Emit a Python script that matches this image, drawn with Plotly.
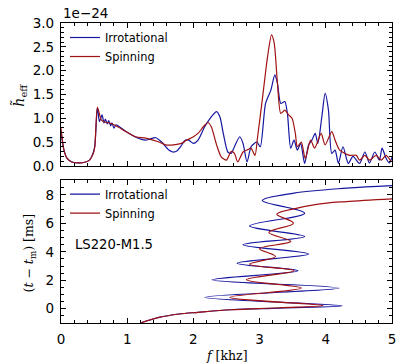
import plotly.graph_objects as go

# ---------------- data ----------------
# Top panel: effective strain spectrum (units of 1e-24) vs frequency [kHz]
f_irr = [0.00, 0.045, 0.09, 0.164, 0.28, 0.37, 0.43, 0.48, 0.51, 0.55, 0.58, 0.62, 0.65, 0.67,
         0.70, 0.72, 0.75, 0.77, 0.80, 0.83, 0.98, 1.13, 1.28, 1.34, 1.43, 1.52, 1.63, 1.69,
         1.75, 1.81, 1.88, 1.93, 2.00, 2.07, 2.17, 2.27, 2.35, 2.40, 2.45, 2.52, 2.57, 2.62,
         2.70, 2.75, 2.81, 2.87, 2.92, 2.96, 3.01, 3.09, 3.17, 3.23, 3.27, 3.32, 3.38, 3.42,
         3.47, 3.52, 3.57, 3.62, 3.68, 3.74, 3.79, 3.84, 3.88, 3.94, 3.99, 4.04, 4.09, 4.14,
         4.19, 4.26, 4.34, 4.41, 4.51, 4.59, 4.66, 4.74, 4.81, 4.85, 4.91, 4.96, 5.00]
h_irr = [0.71, 0.33, 0.16, 0.08, 0.06, 0.08, 0.12, 0.25, 0.41, 1.23, 0.93, 1.07, 0.90, 0.98,
         0.88, 0.95, 0.84, 0.90, 0.79, 0.86, 0.72, 0.60, 0.54, 0.56, 0.59, 0.50, 0.33, 0.29,
         0.31, 0.41, 0.54, 0.54, 0.47, 0.54, 0.82, 1.03, 1.14, 1.03, 0.69, 0.29, 0.26, 0.40,
         0.61, 0.47, 0.08, 0.40, 0.47, 0.50, 0.40, 1.31, 1.59, 1.91, 1.73, 1.31, 1.35, 1.10,
         0.37, 0.54, 0.33, 0.47, 0.05, 0.44, 0.54, 0.68, 0.47, 1.03, 1.52, 1.17, 0.26, 0.33,
         0.05, 0.40, 0.05, 0.20, 0.05, 0.29, 0.06, 0.29, 0.12, 0.37, 0.16, 0.06, 0.18]

f_spin = [0.00, 0.045, 0.09, 0.164, 0.28, 0.37, 0.43, 0.48, 0.51, 0.55, 0.61, 0.66, 0.73, 0.83,
          0.98, 1.13, 1.28, 1.48, 1.58, 1.70, 1.82, 1.90, 2.00, 2.07, 2.15, 2.22, 2.27, 2.35,
          2.42, 2.50, 2.57, 2.62, 2.67, 2.75, 2.82, 2.87, 2.93, 2.97, 3.04, 3.12, 3.18, 3.22,
          3.27, 3.32, 3.38, 3.44, 3.49, 3.54, 3.57, 3.63, 3.69, 3.77, 3.83, 3.87, 3.93, 3.99,
          4.09, 4.14, 4.21, 4.36, 4.46, 4.51, 4.59, 4.66, 4.76, 4.84, 4.91, 4.99]
h_spin = [0.79, 0.33, 0.16, 0.08, 0.06, 0.08, 0.12, 0.23, 0.39, 1.23, 0.96, 0.92, 0.90, 0.84,
          0.72, 0.61, 0.58, 0.50, 0.44, 0.44, 0.47, 0.54, 0.61, 0.68, 0.82, 0.91, 0.82, 0.44,
          0.19, 0.12, 0.30, 0.26, 0.08, 0.29, 0.34, 0.37, 0.22, 0.61, 1.38, 2.29, 2.75, 2.58,
          1.73, 1.10, 1.17, 1.07, 1.00, 0.68, 0.40, 0.50, 0.15, 0.54, 0.37, 0.48, 0.68, 0.44,
          0.72, 0.54, 0.33, 0.22, 0.22, 0.12, 0.22, 0.12, 0.22, 0.12, 0.22, 0.08]

# Bottom panel: instantaneous frequency [kHz] vs time after merger [ms]
fi_irr = [1.20, 1.48, 1.78, 2.07, 2.57, 3.31, 4.25, 2.17, 4.20, 2.28, 3.58, 2.66, 3.74,
          2.75, 3.68, 2.85, 3.68, 3.04, 3.52, 4.31, 5.00]
t_irr = [-1.00, -0.61, -0.37, -0.25, -0.07, 0.05, 0.21, 0.80, 1.45, 2.03, 2.67, 3.20, 3.84,
         4.49, 5.07, 5.82, 6.71, 7.60, 8.12, 8.47, 8.65]

fi_spin = [1.20, 1.48, 1.78, 2.07, 2.57, 3.31, 3.96, 2.55, 3.63, 2.80, 3.52, 2.85, 3.24,
           3.00, 3.47, 3.14, 3.51, 3.26, 3.57, 4.01, 4.31, 5.00]
t_spin = [-1.00, -0.61, -0.37, -0.25, -0.07, 0.07, 0.23, 0.80, 1.45, 2.03, 2.67, 3.13, 3.67,
          4.22, 4.73, 5.36, 6.01, 6.64, 7.07, 7.42, 7.53, 7.72]

names = ["Irrotational", "Spinning"]
model_label = "LS220-M1.5"
x_ticks = [0, 1, 2, 3, 4, 5]

# ---------------- styling ----------------
BLUE = "#1616a0"
RED = "#a01212"
FONT = "DejaVu Sans"
SERIF = "DejaVu Serif"

fig = go.Figure()
fig.add_trace(go.Scatter(x=f_irr, y=h_irr, mode="lines", name=names[0],
                         line=dict(color=BLUE, width=1.2, shape="spline", smoothing=0.7),
                         xaxis="x", yaxis="y", legend="legend"))
fig.add_trace(go.Scatter(x=f_spin, y=h_spin, mode="lines", name=names[1],
                         line=dict(color=RED, width=1.2, shape="spline", smoothing=0.7),
                         xaxis="x", yaxis="y", legend="legend"))
fig.add_trace(go.Scatter(x=fi_irr, y=t_irr, mode="lines", name=names[0],
                         line=dict(color=BLUE, width=1.2, shape="spline", smoothing=1.0),
                         xaxis="x2", yaxis="y2", legend="legend2"))
fig.add_trace(go.Scatter(x=fi_spin, y=t_spin, mode="lines", name=names[1],
                         line=dict(color=RED, width=1.2, shape="spline", smoothing=1.0),
                         xaxis="x2", yaxis="y2", legend="legend2"))

axis_common = dict(showline=True, linecolor="black", linewidth=1.3, mirror="allticks",
                   ticks="inside", ticklen=5, tickwidth=1, tickcolor="black",
                   showgrid=False, zeroline=False,
                   tickfont=dict(family=FONT, size=13.5, color="black"))

fig.update_layout(
    width=401, height=364,
    margin=dict(l=61, r=5, t=23, b=41),
    paper_bgcolor="white", plot_bgcolor="white",
    font=dict(family=FONT, color="black"),
    xaxis=dict(domain=[0, 1], range=[0, 5], tickvals=x_ticks, showticklabels=False,
               anchor="y", minor=dict(dtick=0.2, ticklen=3, ticks="inside", tickcolor="black"),
               **axis_common),
    yaxis=dict(domain=[0.524, 1], range=[0, 3], dtick=0.5, tickformat=".1f", anchor="x",
               minor=dict(dtick=0.1, ticklen=3, ticks="inside", tickcolor="black"),
               ticklabelstandoff=3, **axis_common),
    xaxis2=dict(domain=[0, 1], range=[0, 5], tickvals=x_ticks, anchor="y2",
                minor=dict(dtick=0.2, ticklen=3, ticks="inside", tickcolor="black"),
                ticklabelstandoff=4, **axis_common),
    yaxis2=dict(domain=[0, 0.478], range=[-1, 9.07], tickvals=[0, 2, 4, 6, 8], anchor="x2",
                minor=dict(dtick=0.5, ticklen=3, ticks="inside", tickcolor="black"),
                ticklabelstandoff=3, **axis_common),
    legend=dict(x=0.012, y=1.0, xanchor="left", yanchor="top", bgcolor="rgba(0,0,0,0)",
                font=dict(family=FONT, size=11.4), borderwidth=0, tracegroupgap=0),
    legend2=dict(x=0.012, y=0.478, xanchor="left", yanchor="top", bgcolor="rgba(0,0,0,0)",
                 font=dict(family=FONT, size=11.4), borderwidth=0, tracegroupgap=0),
    showlegend=True,
)

fig.add_annotation(text="1e\u221224", xref="paper", yref="paper", x=0.0, y=1.032,
                   xanchor="left", yanchor="middle", showarrow=False,
                   font=dict(family=FONT, size=13.5, color="black"))
fig.add_annotation(text="<i>h\u0303</i><sub>eff</sub>", xref="paper", yref="paper",
                   x=-0.128, y=0.76, xanchor="center", yanchor="middle", textangle=-90,
                   showarrow=False, font=dict(family=SERIF, size=14, color="black"))
fig.add_annotation(text="(<i>t</i> \u2212 <i>t</i><sub>m</sub>) [ms]", xref="paper", yref="paper",
                   x=-0.0955, y=0.233, xanchor="center", yanchor="middle", textangle=-90,
                   showarrow=False, font=dict(family=SERIF, size=12.5, color="black"))
fig.add_annotation(text="<i>f</i> [khz]", xref="paper", yref="paper",
                   x=0.5, y=-0.107, xanchor="center", yanchor="middle",
                   showarrow=False, font=dict(family=SERIF, size=12.5, color="black"))
fig.add_annotation(text=model_label, xref="x2", yref="y2", x=0.175, y=4.49,
                   xanchor="left", yanchor="middle", showarrow=False,
                   font=dict(family=FONT, size=13.2, color="black"))

fig.write_html("out.html")
